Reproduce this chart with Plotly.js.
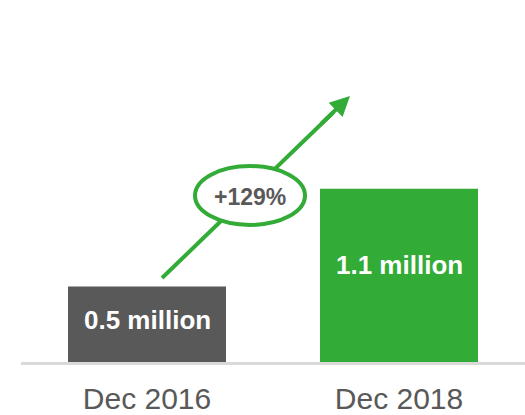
<!DOCTYPE html>
<html>
<head>
<meta charset="utf-8">
<script src="https://cdn.plot.ly/plotly-3.0.1.min.js"></script>
<style>html,body{margin:0;padding:0;background:#fff;}#chart{width:525px;height:415px;}</style>
</head>
<body>
<div id="chart"></div>
<script>
const categories = ["Dec 2016", "Dec 2018"];
const values = [0.48, 1.1];
const barLabels = ["0.5 million", "1.1 million"];
const barColors = ["#595959", "#32AB37"];
const growthLabel = "+129%";

const GREEN = "#32AB37";
const GRAY = "#595959";

const trace = {
  type: "bar",
  x: categories,
  y: values,
  marker: {color: barColors, line: {width: 0}},
  hoverinfo: "none",
  textposition: "none"
};

const annotations = barLabels.map((t, i) => ({
  x: categories[i], y: values[i] * 0.56, xref: "x", yref: "y",
  text: t, showarrow: false,
  font: {family: "Liberation Sans, Arial, sans-serif", size: 26, color: "#ffffff", weight: "bold"},
  xanchor: "center", yanchor: "middle"
}));

// arrow head
annotations.push({
  x: 0.6528, y: 0.7348, xref: "paper", yref: "paper",
  ax: -30, ay: 29, axref: "pixel", ayref: "pixel",
  showarrow: true, arrowhead: 2, arrowsize: 1, arrowwidth: 4, arrowcolor: GREEN,
  text: ""
});
// growth label
annotations.push({
  x: 0.4544, y: 0.4558, xref: "paper", yref: "paper",
  text: growthLabel, showarrow: false,
  font: {family: "Liberation Sans, Arial, sans-serif", size: 23, color: GRAY, weight: "bold"},
  xanchor: "center", yanchor: "middle"
});

const shapes = [
  {type: "line", xref: "paper", yref: "paper", x0: 0.2798, y0: 0.232, x1: 0.62, y1: 0.69,
   line: {color: GREEN, width: 4}, layer: "above"},
  {type: "circle", xref: "paper", yref: "paper", x0: 0.3452, x1: 0.5635, y0: 0.3785, y1: 0.5414,
   line: {color: GREEN, width: 4}, fillcolor: "#ffffff", layer: "above"}
];

const layout = {
  width: 525, height: 415,
  margin: {l: 21, r: 0, t: 0, b: 53},
  paper_bgcolor: "#ffffff", plot_bgcolor: "#ffffff",
  showlegend: false,
  bargap: 0.373,
  xaxis: {
    type: "category", range: [-0.5, 1.5],
    showline: true, linecolor: "#d9d9d9", linewidth: 3,
    showgrid: false, zeroline: false, ticks: "",
    ticklabelstandoff: 8,
    tickfont: {family: "Liberation Sans, Arial, sans-serif", size: 30, color: GRAY}
  },
  yaxis: {range: [0, 2.3], visible: false, showgrid: false, zeroline: false},
  annotations: annotations,
  shapes: shapes
};

Plotly.newPlot("chart", [trace], layout, {displayModeBar: false, staticPlot: true});
</script>
</body>
</html>
